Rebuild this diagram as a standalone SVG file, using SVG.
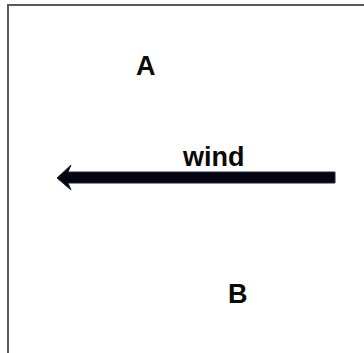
<svg xmlns="http://www.w3.org/2000/svg" width="364" height="353" viewBox="0 0 364 353">
<style>
.lbl{font-family:"Liberation Sans",Arial,sans-serif;font-weight:bold;font-size:27px;fill:#0a0a0a}
</style>
<rect x="0" y="0" width="364" height="353" fill="#ffffff"/>
<rect x="8" y="5" width="420" height="420" fill="none" stroke="#5a5a5a" stroke-width="2"/>
<g id="A"><text class="lbl" x="136" y="75">A</text></g>
<g id="B"><text class="lbl" x="228" y="303">B</text></g>
<g id="connectors">
<g id="wind">
<path d="M335,172 L68,172 L71,165 L57,178 L71,190 L68,183 L335,183 Z" fill="#05050f" stroke="#1c2440" stroke-width="1"/>
<text class="lbl" x="183" y="166" font-size="28">wind</text>
</g>
</g>
</svg>
